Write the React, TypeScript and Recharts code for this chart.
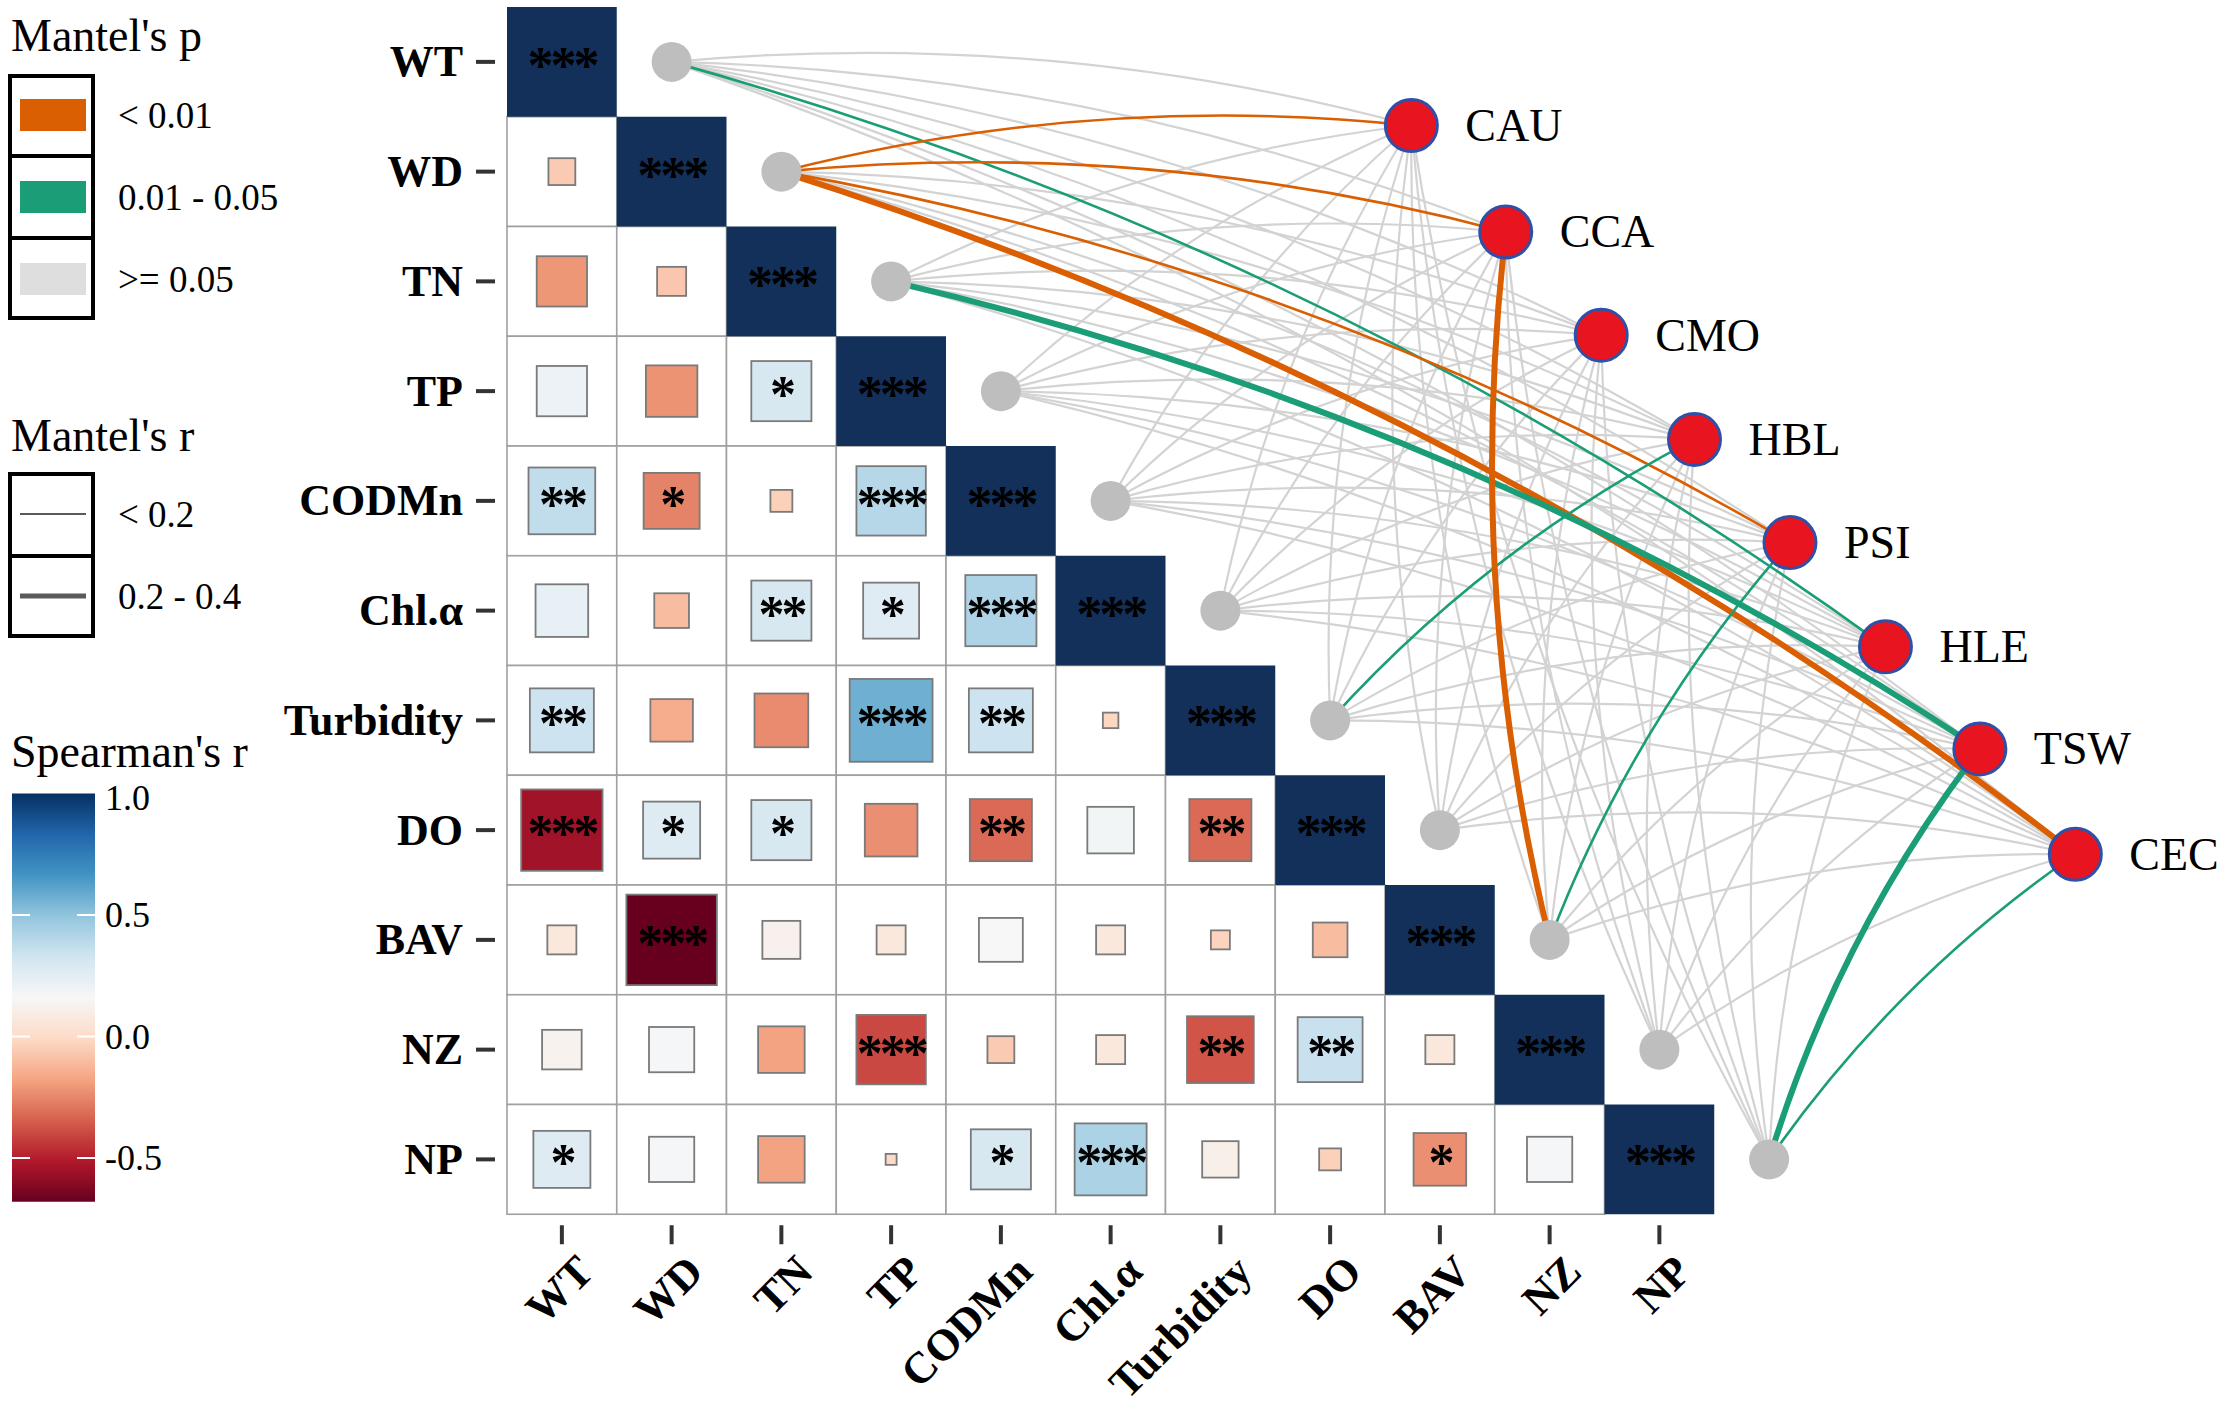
import React from 'react';
import { ScatterChart, Scatter, XAxis, YAxis } from 'recharts';

const W = 2228;
const H = 1411;
const CELL = 109.75;
const LEFT = 507;
const TOP = 7;
const FONT = '"Liberation Serif", "Times New Roman", serif';

const ORANGE = '#D95F02';
const GREEN = '#1B9E77';
const LINK_GREY = '#D3D3D3';

// environmental variables (matrix rows / columns)
const vars = ['WT', 'WD', 'TN', 'TP', 'CODMn', 'Chl.α', 'Turbidity', 'DO', 'BAV', 'NZ', 'NP'];

// Spearman's r, lower triangle, one array per row (columns WT..)
const rWD = [-0.06];
const rTN = [-0.21, -0.07];
const rTP = [0.21, -0.22, 0.3];
const rCODMn = [0.37, -0.26, -0.04, 0.4];
const rChl = [0.23, -0.1, 0.3, 0.26, 0.42];
const rTurbidity = [0.34, -0.15, -0.24, 0.57, 0.34, -0.02];
const rDO = [-0.55, 0.27, 0.3, -0.23, -0.32, 0.18, -0.32];
const rBAV = [0.07, -0.68, 0.12, 0.07, 0.16, 0.07, -0.03, -0.1];
const rNZ = [0.13, 0.17, -0.18, -0.4, -0.06, 0.07, -0.37, 0.35, 0.07];
const rNP = [0.27, 0.17, -0.18, -0.01, 0.3, 0.43, 0.11, -0.04, -0.23, 0.17];

// significance marks for the same cells
const sWD = [''];
const sTN = ['', ''];
const sTP = ['', '', '*'];
const sCODMn = ['**', '*', '', '***'];
const sChl = ['', '', '**', '*', '***'];
const sTurbidity = ['**', '', '', '***', '**', ''];
const sDO = ['***', '*', '*', '', '**', '', '**'];
const sBAV = ['', '***', '', '', '', '', '', ''];
const sNZ = ['', '', '', '***', '', '', '**', '**', ''];
const sNP = ['*', '', '', '', '*', '***', '', '', '*', ''];

// species nodes and their positions (in cell units)
const species = ['CAU', 'CCA', 'CMO', 'HBL', 'PSI', 'HLE', 'TSW', 'CEC'];
const speciesX = [8.24, 9.1, 9.97, 10.82, 11.69, 12.56, 13.42, 14.29];
const speciesY = [1.08, 2.05, 2.99, 3.94, 4.88, 5.83, 6.76, 7.72];

// Mantel's p class per species: 0 = >=0.05, 1 = 0.01-0.05, 2 = <0.01
const pWT = [0, 0, 0, 0, 0, 1, 0, 0];
const pWD = [2, 2, 0, 0, 2, 0, 0, 2];
const pTN = [0, 0, 0, 0, 0, 0, 1, 0];
const pTP = [0, 0, 0, 0, 0, 0, 0, 0];
const pCODMn = [0, 0, 0, 0, 0, 0, 0, 0];
const pChl = [0, 0, 0, 0, 0, 0, 0, 0];
const pTurbidity = [0, 0, 0, 1, 0, 0, 0, 0];
const pDO = [0, 0, 0, 0, 0, 0, 0, 0];
const pBAV = [0, 2, 0, 0, 1, 0, 0, 0];
const pNZ = [0, 0, 0, 0, 0, 0, 0, 0];
const pNP = [0, 0, 0, 0, 0, 0, 1, 1];

// Mantel's r class per species: 0 = <0.2, 1 = 0.2-0.4
const mrWT = [0, 0, 0, 0, 0, 0, 0, 0];
const mrWD = [0, 0, 0, 0, 0, 0, 0, 1];
const mrTN = [0, 0, 0, 0, 0, 0, 1, 0];
const mrBAV = [0, 1, 0, 0, 0, 0, 0, 0];
const mrNP = [0, 0, 0, 0, 0, 0, 1, 0];
const mrNone = [0, 0, 0, 0, 0, 0, 0, 0];

const rRows = [[], rWD, rTN, rTP, rCODMn, rChl, rTurbidity, rDO, rBAV, rNZ, rNP];
const sRows = [[], sWD, sTN, sTP, sCODMn, sChl, sTurbidity, sDO, sBAV, sNZ, sNP];
const pRows = [pWT, pWD, pTN, pTP, pCODMn, pChl, pTurbidity, pDO, pBAV, pNZ, pNP];
const mrRows = [mrWT, mrWD, mrTN, mrNone, mrNone, mrNone, mrNone, mrNone, mrBAV, mrNone, mrNP];

const R_MIN = -0.68;
const R_MAX = 1.0;
const RDBU = ['#67001F', '#B2182B', '#D6604D', '#F4A582', '#FDDBC7', '#F7F7F7', '#D1E5F0', '#92C5DE', '#4393C3', '#2166AC', '#053061'];

const hex = (c: string) => [1, 3, 5].map((i) => parseInt(c.slice(i, i + 2), 16));
function colorFor(r: number) {
  let t = (r - R_MIN) / (R_MAX - R_MIN);
  t = Math.max(0, Math.min(1, t)) * (RDBU.length - 1);
  const i = Math.min(Math.floor(t), RDBU.length - 2);
  const f = t - i;
  const a = hex(RDBU[i]);
  const b = hex(RDBU[i + 1]);
  const m = a.map((v, k) => Math.round(v + (b[k] - v) * f));
  return `rgb(${m[0]},${m[1]},${m[2]})`;
}

const cellData: any[] = [];
rRows.forEach((row, i) =>
  row.forEach((r, j) => cellData.push({ x: j + 0.5, y: i + 0.5, r, star: sRows[i][j] }))
);
const diagData = vars.map((v, i) => ({ x: i + 0.5, y: i + 0.5, r: 1, star: '***' }));
const envNodes = vars.map((v, i) => ({ x: i + 1.5, y: i + 0.5, name: v }));
const specNodes = species.map((s, k) => ({ x: speciesX[k], y: speciesY[k], name: s }));

const links: any[] = [];
vars.forEach((v, i) =>
  species.forEach((s, k) =>
    links.push({
      id: `${v}-${s}`,
      p: pRows[i][k],
      mr: mrRows[i][k],
      data: [
        { x: i + 1.5, y: i + 0.5 },
        { x: speciesX[k], y: speciesY[k] },
      ],
    })
  )
);
const greyLinks = links.filter((l) => l.p === 0);
const colourLinks = links.filter((l) => l.p > 0);

const ticks = vars.map((v, i) => i + 0.5);

const linkLine = (color: string, width: number) => (props: any) => {
  const pts = props.points;
  if (!pts || pts.length < 2) return <g />;
  const a = pts[0];
  const b = pts[1];
  const dx = b.x - a.x;
  const dy = b.y - a.y;
  const k = 0.09;
  const mx = (a.x + b.x) / 2 + k * dy;
  const my = (a.y + b.y) / 2 - k * dx;
  return (
    <path
      d={`M${a.x},${a.y} Q${mx},${my} ${b.x},${b.y}`}
      fill="none"
      stroke={color}
      strokeWidth={width}
      strokeLinecap="round"
    />
  );
};

const noPoint = () => <g />;

const CellShape = (props: any) => {
  const { cx, cy } = props;
  const h = CELL / 2;
  return <rect x={cx - h} y={cy - h} width={CELL} height={CELL} fill="#fff" stroke="#A0A0A0" strokeWidth={1.6} />;
};

const Star = ({ cx, cy, star }: any) =>
  star ? (
    <text
      x={cx}
      y={cy + 21}
      textAnchor="middle"
      fontFamily={FONT}
      fontWeight="bold"
      fontSize={52}
      letterSpacing={-3}
      fill="#000"
    >
      {star}
    </text>
  ) : null;

const SquareShape = (props: any) => {
  const { cx, cy, payload } = props;
  const side = CELL * Math.sqrt(Math.abs(payload.r));
  return (
    <g>
      <rect
        x={cx - side / 2}
        y={cy - side / 2}
        width={side}
        height={side}
        fill={colorFor(payload.r)}
        stroke="#7A7A7A"
        strokeWidth={1.8}
      />
      <Star cx={cx} cy={cy} star={payload.star} />
    </g>
  );
};

const DiagShape = (props: any) => {
  const { cx, cy, payload } = props;
  const h = CELL / 2;
  return (
    <g>
      <rect x={cx - h} y={cy - h} width={CELL} height={CELL} fill="#12305A" />
      <Star cx={cx} cy={cy} star={payload.star} />
    </g>
  );
};

const EnvNode = (props: any) => <circle cx={props.cx} cy={props.cy} r={20} fill="#BEBEBE" />;

const SpecNode = (props: any) => (
  <g>
    <circle cx={props.cx} cy={props.cy} r={26} fill="#E8141F" stroke="#3050A8" strokeWidth={3} />
    <text x={props.cx + 54} y={props.cy} dominantBaseline="central" fontFamily={FONT} fontSize={46} fill="#000">
      {props.payload.name}
    </text>
  </g>
);

const YTick = (props: any) => {
  const { x, y, payload } = props;
  const label = vars[Math.round(payload.value - 0.5)];
  return (
    <g>
      <line x1={x - 31} x2={x - 12} y1={y} y2={y} stroke="#333" strokeWidth={4} />
      <text
        x={x - 44}
        y={y}
        textAnchor="end"
        dominantBaseline="central"
        fontFamily={FONT}
        fontWeight="bold"
        fontSize={44}
        fill="#000"
      >
        {label}
      </text>
    </g>
  );
};

const XTick = (props: any) => {
  const { x, y, payload } = props;
  const label = vars[Math.round(payload.value - 0.5)];
  const ax = x + 12;
  const ay = y + 38;
  return (
    <g>
      <line x1={x} x2={x} y1={y + 11} y2={y + 30} stroke="#333" strokeWidth={4} />
      <text
        x={ax}
        y={ay}
        dy="0.7em"
        textAnchor="end"
        transform={`rotate(-45 ${ax} ${ay})`}
        fontFamily={FONT}
        fontWeight="bold"
        fontSize={44}
        fill="#000"
      >
        {label}
      </text>
    </g>
  );
};

const legendText = { fontFamily: FONT, fill: '#000' };

const Legends = () => {
  const barY = (v: number) => 1036.5 - v * 243;
  // gradient runs top (r = 1.0) to bottom (r = R_MIN), stops in increasing offset order
  const stops = RDBU.map((c, i) => {
    const v = R_MIN + (i / (RDBU.length - 1)) * (R_MAX - R_MIN);
    const off = (barY(v) - barY(R_MAX)) / (barY(R_MIN) - barY(R_MAX));
    return { c, off };
  }).reverse();
  return (
    <svg width={520} height={H} style={{ position: 'absolute', left: 0, top: 0, pointerEvents: 'none' }}>
      <defs>
        <linearGradient id="spear" x1="0" y1="0" x2="0" y2="1">
          {stops.map((s, i) => (
            <stop key={i} offset={s.off} stopColor={s.c} />
          ))}
        </linearGradient>
      </defs>
      {/* Mantel's p */}
      <text x={11} y={51} fontSize={46} {...legendText}>Mantel's p</text>
      <rect x={20} y={99} width={66} height={32} fill={ORANGE} />
      <rect x={20} y={181} width={66} height={32} fill={GREEN} />
      <rect x={20} y={263} width={66} height={32} fill="#DEDEDE" />
      <rect x={10} y={76} width={83} height={242} fill="none" stroke="#000" strokeWidth={4} />
      <line x1={10} x2={93} y1={156} y2={156} stroke="#000" strokeWidth={4} />
      <line x1={10} x2={93} y1={238} y2={238} stroke="#000" strokeWidth={4} />
      <text x={118} y={115} dominantBaseline="central" fontSize={37} {...legendText}>{'< 0.01'}</text>
      <text x={118} y={197} dominantBaseline="central" fontSize={37} {...legendText}>0.01 - 0.05</text>
      <text x={118} y={279} dominantBaseline="central" fontSize={37} {...legendText}>{'>= 0.05'}</text>

      {/* Mantel's r */}
      <text x={11} y={451} fontSize={46} {...legendText}>Mantel's r</text>
      <line x1={20} x2={86} y1={514} y2={514} stroke="#5A5A5A" strokeWidth={2} />
      <line x1={20} x2={86} y1={596} y2={596} stroke="#5A5A5A" strokeWidth={5} />
      <rect x={10} y={474} width={83} height={162} fill="none" stroke="#000" strokeWidth={4} />
      <line x1={10} x2={93} y1={556} y2={556} stroke="#000" strokeWidth={4} />
      <text x={118} y={514} dominantBaseline="central" fontSize={37} {...legendText}>{'< 0.2'}</text>
      <text x={118} y={596} dominantBaseline="central" fontSize={37} {...legendText}>0.2 - 0.4</text>

      {/* Spearman's r */}
      <text x={11} y={767} fontSize={46} {...legendText}>Spearman's r</text>
      <rect x={12} y={barY(R_MAX)} width={83} height={barY(R_MIN) - barY(R_MAX)} fill="url(#spear)" />
      {[0.5, 0, -0.5].map((v) => (
        <g key={v}>
          <line x1={12} x2={30} y1={barY(v)} y2={barY(v)} stroke="#fff" strokeWidth={2} />
          <line x1={77} x2={95} y1={barY(v)} y2={barY(v)} stroke="#fff" strokeWidth={2} />
        </g>
      ))}
      {[1, 0.5, 0, -0.5].map((v) => (
        <text key={v} x={105} y={barY(v) + (v === 1 ? 4 : 0)} dominantBaseline="central" fontSize={36} {...legendText}>
          {v.toFixed(1)}
        </text>
      ))}
    </svg>
  );
};

export default function App() {
  return (
    <div style={{ position: 'relative', width: W, height: H, background: '#fff' }}>
      <style>{'body{margin:0;background:#fff}'}</style>
      <ScatterChart
        width={W}
        height={H}
        margin={{ top: TOP, right: W - LEFT - 15 * CELL, left: 0, bottom: 0 }}
      >
        <XAxis
          type="number"
          dataKey="x"
          domain={[0, 15]}
          ticks={ticks}
          interval={0}
          height={H - TOP - 11 * CELL}
          axisLine={false}
          tickLine={false}
          tickSize={0}
          tickMargin={0}
          tick={(p: any) => <XTick {...p} />}
        />
        <YAxis
          type="number"
          dataKey="y"
          domain={[0, 11]}
          reversed
          ticks={ticks}
          interval={0}
          width={LEFT}
          axisLine={false}
          tickLine={false}
          tickSize={0}
          tickMargin={0}
          tick={(p: any) => <YTick {...p} />}
        />
        {greyLinks.map((l) => (
          <Scatter
            key={l.id}
            data={l.data}
            shape={noPoint}
            line={linkLine(LINK_GREY, l.mr ? 4 : 2.2)}
            lineType="joint"
            isAnimationActive={false}
          />
        ))}
        {colourLinks.map((l) => (
          <Scatter
            key={l.id}
            data={l.data}
            shape={noPoint}
            line={linkLine(l.p === 2 ? ORANGE : GREEN, l.mr ? 6 : 2.6)}
            lineType="joint"
            isAnimationActive={false}
          />
        ))}
        <Scatter data={cellData} shape={CellShape} isAnimationActive={false} />
        <Scatter data={cellData} shape={SquareShape} isAnimationActive={false} />
        <Scatter data={diagData} shape={DiagShape} isAnimationActive={false} />
        <Scatter data={envNodes} shape={EnvNode} isAnimationActive={false} />
        <Scatter data={specNodes} shape={SpecNode} isAnimationActive={false} />
      </ScatterChart>
      <Legends />
    </div>
  );
}
